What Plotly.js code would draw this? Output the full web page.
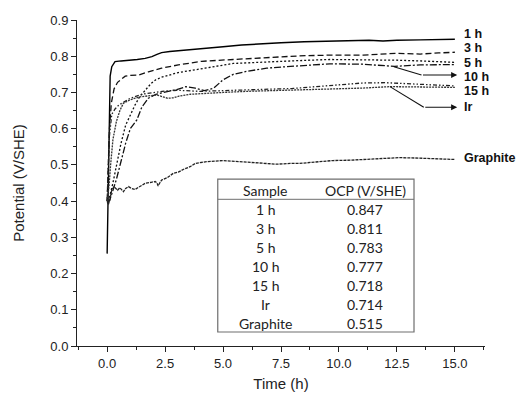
<!DOCTYPE html>
<html>
<head>
<meta charset="utf-8">
<script src="https://cdn.plot.ly/plotly-3.0.1.min.js"></script>
<style>html,body{margin:0;padding:0;background:#fff;}#chart{width:526px;height:394px;}</style>
</head>
<body>
<div id="chart"></div>
<script>
// ---- data ----
const seriesNames = ["1 h", "3 h", "5 h", "10 h", "15 h", "Ir", "Graphite"];

const t1h = [0, 0.03, 0.08, 0.13, 0.2, 0.34, 0.6, 0.92, 1.3, 1.64, 1.93, 2.15, 2.35, 2.7, 3.07, 3.5, 4.08, 5.0, 5.8, 6.5, 7.5, 8.5, 9.5, 10.5, 11.3, 11.9, 12.5, 13.5, 14.3, 15];
const v1h = [0.255, 0.40, 0.62, 0.745, 0.771, 0.785, 0.787, 0.788, 0.791, 0.794, 0.799, 0.805, 0.810, 0.813, 0.815, 0.817, 0.819, 0.826, 0.831, 0.834, 0.837, 0.840, 0.841, 0.843, 0.844, 0.842, 0.844, 0.845, 0.846, 0.847];

const t3h = [0, 0.05, 0.1, 0.18, 0.3, 0.45, 0.56, 0.78, 1.0, 1.35, 1.78, 2.35, 3.07, 4.08, 5.44, 6.88, 8.3, 9.6, 11.05, 12.5, 13.5, 14.3, 15];
const v3h = [0.40, 0.48, 0.60, 0.67, 0.71, 0.728, 0.734, 0.745, 0.747, 0.748, 0.757, 0.767, 0.776, 0.786, 0.791, 0.797, 0.801, 0.803, 0.803, 0.808, 0.806, 0.809, 0.811];

const t5h = [0, 0.1, 0.25, 0.4, 0.6, 0.8, 1.0, 1.2, 1.4, 1.64, 1.9, 2.1, 2.35, 3.07, 3.8, 4.22, 5.44, 6.88, 8.3, 9.6, 11, 12.5, 13.5, 14.3, 15];
const v5h = [0.40, 0.41, 0.45, 0.50, 0.56, 0.61, 0.64, 0.665, 0.688, 0.707, 0.725, 0.735, 0.742, 0.755, 0.762, 0.767, 0.780, 0.785, 0.788, 0.791, 0.791, 0.789, 0.787, 0.785, 0.783];

const t10h = [0, 0.1, 0.2, 0.4, 0.6, 0.8, 1.0, 1.28, 1.5, 1.78, 2.1, 2.5, 3.0, 3.4, 3.8, 4.2, 4.6, 5.0, 5.44, 6.0, 6.88, 7.5, 8.3, 9.6, 11, 12.4, 13.5, 14.3, 15];
const v10h = [0.40, 0.40, 0.42, 0.46, 0.51, 0.56, 0.60, 0.624, 0.66, 0.684, 0.695, 0.70, 0.708, 0.716, 0.712, 0.705, 0.712, 0.735, 0.75, 0.758, 0.767, 0.77, 0.773, 0.779, 0.778, 0.772, 0.776, 0.777, 0.777];

const t15h = [0, 0.05, 0.1, 0.2, 0.35, 0.5, 0.75, 1.0, 1.5, 2.0, 2.5, 3.0, 3.5, 4.0, 5.0, 6.0, 7.0, 8.0, 9.0, 10.0, 10.5, 11.0, 12.0, 13.0, 14.0, 15.0];
const v15h = [0.40, 0.50, 0.58, 0.64, 0.655, 0.665, 0.675, 0.684, 0.695, 0.70, 0.704, 0.706, 0.705, 0.703, 0.705, 0.707, 0.709, 0.711, 0.716, 0.72, 0.724, 0.726, 0.727, 0.724, 0.72, 0.718];

const tIr = [0, 0.08, 0.15, 0.25, 0.4, 0.55, 0.7, 1.0, 1.42, 1.8, 2.15, 2.4, 2.6, 2.85, 3.1, 3.6, 4.2, 5.0, 6.0, 7.0, 8.0, 9.0, 10.0, 11.0, 12.2, 13.0, 14.0, 15.0];
const vIr = [0.40, 0.44, 0.50, 0.57, 0.62, 0.65, 0.67, 0.68, 0.688, 0.691, 0.693, 0.688, 0.684, 0.685, 0.69, 0.695, 0.698, 0.70, 0.703, 0.705, 0.707, 0.708, 0.709, 0.712, 0.716, 0.716, 0.715, 0.714];

const tGr = [0, 0.05, 0.12, 0.2, 0.3, 0.45, 0.55, 0.7, 0.8, 0.92, 1.05, 1.2, 1.35, 1.64, 1.9, 2.07, 2.15, 2.2, 2.25, 2.35, 2.6, 2.86, 3.07, 3.3, 3.58, 3.8, 4.0, 4.29, 5.0, 5.73, 6.7, 7.3, 7.9, 8.3, 9.0, 9.75, 10.5, 11.2, 12.0, 12.6, 13.3, 14.1, 15];
const vGr = [0.40, 0.39, 0.405, 0.43, 0.44, 0.43, 0.437, 0.426, 0.435, 0.44, 0.435, 0.432, 0.438, 0.449, 0.452, 0.454, 0.45, 0.442, 0.448, 0.458, 0.465, 0.477, 0.48, 0.488, 0.495, 0.504, 0.506, 0.509, 0.512, 0.509, 0.504, 0.502, 0.504, 0.504, 0.508, 0.512, 0.513, 0.515, 0.518, 0.52, 0.519, 0.518, 0.515];

// table contents
const tableHeader = ["Sample", "OCP (V/SHE)"];
const tableSamples = ["1 h", "3 h", "5 h", "10 h", "15 h", "Ir", "Graphite"];
const tableOCP = ["0.847", "0.811", "0.783", "0.777", "0.718", "0.714", "0.515"];

// ---- styles ----
const times = [t1h, t3h, t5h, t10h, t15h, tIr, tGr];
const values = [v1h, v3h, v5h, v10h, v15h, vIr, vGr];
const dashes = ["solid", "6px,3px", "2px,2px", "7px,2px,2px,2px", "4px,2px,1.5px,2px,1.5px,2px", "2px,1px", "3px,1px"];
const colors = ["#000", "#111", "#111", "#111", "#222", "#333", "#222"];
const widths = [1.4, 1.3, 1.3, 1.3, 1.3, 1.3, 1.3];

const traces = seriesNames.map((n, i) => ({
  type: "scatter", mode: "lines", name: n,
  x: times[i], y: values[i],
  line: {color: colors[i], width: widths[i], dash: dashes[i]},
  showlegend: false, hoverinfo: "skip"
}));

const labelY = [0.862, 0.822, 0.782, 0.743, 0.703, 0.659, 0.518];
const annotations = seriesNames.map((n, i) => ({
  xref: "x", yref: "y", x: 15.35, y: labelY[i], xanchor: "left", yanchor: "middle",
  text: "<b>" + n + "</b>", showarrow: false, borderpad: 0,
  font: {family: "Liberation Sans, Arial, sans-serif", size: 12.5, color: "#111"}
}));

// arrows (horizontal parts with heads)
annotations.push({xref: "x", yref: "y", axref: "x", ayref: "y", x: 15.1, y: 0.748, ax: 13.56, ay: 0.748,
  text: "", showarrow: true, arrowhead: 2, arrowsize: 1.1, arrowwidth: 1.1, arrowcolor: "#111"});
annotations.push({xref: "x", yref: "y", axref: "x", ayref: "y", x: 15.1, y: 0.659, ax: 13.66, ay: 0.659,
  text: "", showarrow: true, arrowhead: 2, arrowsize: 1.1, arrowwidth: 1.1, arrowcolor: "#111"});

// table text
const colX = [0.4625, 0.706];
const headY = 0.4785, rowStep = 0.0583;
const tFont = {family: "Lato, Open Sans, sans-serif", size: 14, color: "#222"};
tableHeader.forEach((h, j) => annotations.push({xref: "paper", yref: "paper", x: colX[j], y: headY,
  xanchor: "center", yanchor: "middle", text: h, showarrow: false, font: tFont}));
tableSamples.forEach((s, i) => {
  annotations.push({xref: "paper", yref: "paper", x: colX[0], y: headY - rowStep * (i + 1),
    xanchor: "center", yanchor: "middle", text: s, showarrow: false, font: tFont});
  annotations.push({xref: "paper", yref: "paper", x: colX[1], y: headY - rowStep * (i + 1),
    xanchor: "center", yanchor: "middle", text: tableOCP[i], showarrow: false, font: tFont});
});

const shapes = [
  // diagonal parts of the bent arrows
  {type: "line", xref: "x", yref: "y", x0: 12.37, y0: 0.771, x1: 13.56, y1: 0.748, line: {color: "#111", width: 1.1}},
  {type: "line", xref: "x", yref: "y", x0: 12.2, y0: 0.716, x1: 13.66, y1: 0.659, line: {color: "#111", width: 1.1}},
  // table frame
  {type: "rect", xref: "paper", yref: "paper", x0: 0.345, x1: 0.826, y0: 0.043, y1: 0.512,
    line: {color: "#6e6e6e", width: 1.2}, fillcolor: "rgba(0,0,0,0)"},
  {type: "line", xref: "paper", yref: "paper", x0: 0.345, x1: 0.826, y0: 0.45, y1: 0.45,
    line: {color: "#6e6e6e", width: 1}}
];

const axFont = {family: "Liberation Sans, Arial, sans-serif", size: 13, color: "#222"};
const layout = {
  width: 526, height: 394,
  margin: {l: 77, r: 41, t: 20, b: 48},
  paper_bgcolor: "#fff", plot_bgcolor: "#fff",
  showlegend: false,
  xaxis: {
    range: [-1.3, 16.3], tickvals: [0, 2.5, 5, 7.5, 10, 12.5, 15], tickformat: ".1f",
    ticks: "outside", ticklen: 5, tickwidth: 1, tickcolor: "#222",
    minor: {tickvals: [-1.25, 1.25, 3.75, 6.25, 8.75, 11.25, 13.75, 16.25], ticks: "outside", ticklen: 3, tickcolor: "#222"},
    showline: true, linecolor: "#222", linewidth: 1, showgrid: false, zeroline: false,
    tickfont: axFont,
    title: {text: "Time (h)", font: {family: "Liberation Sans, Arial, sans-serif", size: 15, color: "#222"}, standoff: 8}
  },
  yaxis: {
    range: [0, 0.9], dtick: 0.1, tick0: 0, tickformat: ".1f",
    ticks: "outside", ticklen: 5, tickwidth: 1, tickcolor: "#222",
    minor: {dtick: 0.05, ticks: "outside", ticklen: 3, tickcolor: "#222"},
    showline: true, linecolor: "#222", linewidth: 1, showgrid: false, zeroline: false,
    tickfont: axFont,
    title: {text: "Potential (V/SHE)", font: {family: "Liberation Sans, Arial, sans-serif", size: 15, color: "#222"}, standoff: 22}
  },
  annotations: annotations,
  shapes: shapes
};

Plotly.newPlot("chart", traces, layout, {displayModeBar: false, staticPlot: true});
</script>
</body>
</html>
